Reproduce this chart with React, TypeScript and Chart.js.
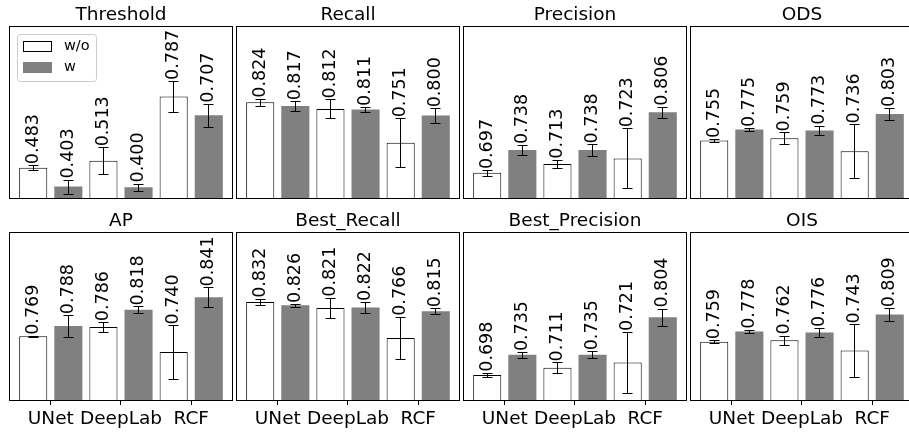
import React, { useEffect, useRef } from 'react';
import { Chart, registerables } from 'chart.js';

Chart.register(...registerables);

// ---------- data ----------
const categories = ['UNet', 'DeepLab', 'RCF'];
const seriesLabels = ['w/o', 'w'];

const thresholdWo = [0.483, 0.513, 0.787];
const thresholdW = [0.403, 0.400, 0.707];
const thresholdWoErr = [0.011, 0.057, 0.066];
const thresholdWErr = [0.030, 0.016, 0.049];

const recallWo = [0.824, 0.812, 0.751];
const recallW = [0.817, 0.811, 0.800];
const recallWoErr = [0.0064, 0.017, 0.044];
const recallWErr = [0.0085, 0.0046, 0.013];

const precisionWo = [0.697, 0.713, 0.723];
const precisionW = [0.738, 0.738, 0.806];
const precisionWoErr = [0.005, 0.0076, 0.054];
const precisionWErr = [0.009, 0.010, 0.010];

const odsWo = [0.755, 0.759, 0.736];
const odsW = [0.775, 0.773, 0.803];
const odsWoErr = [0.003, 0.0106, 0.048];
const odsWErr = [0.0025, 0.0085, 0.0106];

const apWo = [0.769, 0.786, 0.740];
const apW = [0.788, 0.818, 0.841];
const apWoErr = [0.001, 0.009, 0.049];
const apWErr = [0.020, 0.006, 0.018];

const bestRecallWo = [0.832, 0.821, 0.766];
const bestRecallW = [0.826, 0.822, 0.815];
const bestRecallWoErr = [0.006, 0.019, 0.039];
const bestRecallWErr = [0.0025, 0.010, 0.0055];

const bestPrecisionWo = [0.698, 0.711, 0.721];
const bestPrecisionW = [0.735, 0.735, 0.804];
const bestPrecisionWoErr = [0.004, 0.010, 0.056];
const bestPrecisionWErr = [0.005, 0.0065, 0.016];

const oisWo = [0.759, 0.762, 0.743];
const oisW = [0.778, 0.776, 0.809];
const oisWoErr = [0.003, 0.0085, 0.048];
const oisWErr = [0.003, 0.0085, 0.0115];

const thresholdRange = [0.35, 1.087];
const metricRange = [0.65, 0.961];

const panels = [
  { title: 'Threshold', wo: thresholdWo, w: thresholdW, woErr: thresholdWoErr, wErr: thresholdWErr, range: thresholdRange },
  { title: 'Recall', wo: recallWo, w: recallW, woErr: recallWoErr, wErr: recallWErr, range: metricRange },
  { title: 'Precision', wo: precisionWo, w: precisionW, woErr: precisionWoErr, wErr: precisionWErr, range: metricRange },
  { title: 'ODS', wo: odsWo, w: odsW, woErr: odsWoErr, wErr: odsWErr, range: metricRange },
  { title: 'AP', wo: apWo, w: apW, woErr: apWoErr, wErr: apWErr, range: metricRange },
  { title: 'Best_Recall', wo: bestRecallWo, w: bestRecallW, woErr: bestRecallWoErr, wErr: bestRecallWErr, range: metricRange },
  { title: 'Best_Precision', wo: bestPrecisionWo, w: bestPrecisionW, woErr: bestPrecisionWoErr, wErr: bestPrecisionWErr, range: metricRange },
  { title: 'OIS', wo: oisWo, w: oisW, woErr: oisWoErr, wErr: oisWErr, range: metricRange },
];

// ---------- styling / layout ----------
const FONT = "'DejaVu Sans', 'Liberation Sans', sans-serif";
const WO_COLOR = '#ffffff';
const W_COLOR = '#808080';
const COL_PITCH = 227;
const AREA_LEFT0 = 9;
const AREA_W = 224;
const PAD_X = 4;

function makeErrorPlugin(errs: number[][]) {
  return {
    id: 'errorBars',
    afterDatasetsDraw(chart: any) {
      const ctx = chart.ctx;
      const yScale = chart.scales.y;
      ctx.save();
      ctx.strokeStyle = '#000';
      ctx.lineWidth = 1;
      chart.data.datasets.forEach((ds: any, di: number) => {
        const meta = chart.getDatasetMeta(di);
        meta.data.forEach((bar: any, i: number) => {
          const v = ds.data[i].y;
          const e = errs[di][i];
          const x = Math.floor(bar.x) + 0.5;
          const yt = Math.round(yScale.getPixelForValue(v + e)) + 0.5;
          const yb = Math.round(yScale.getPixelForValue(v - e)) + 0.5;
          ctx.beginPath();
          ctx.moveTo(x, yt);
          ctx.lineTo(x, yb);
          ctx.moveTo(x - 5, yt);
          ctx.lineTo(x + 5, yt);
          ctx.moveTo(x - 5, yb);
          ctx.lineTo(x + 5, yb);
          ctx.stroke();
        });
      });
      // value labels
      ctx.fillStyle = '#000';
      ctx.font = `17.5px ${FONT}`;
      ctx.textAlign = 'left';
      ctx.textBaseline = 'middle';
      chart.data.datasets.forEach((ds: any, di: number) => {
        const meta = chart.getDatasetMeta(di);
        meta.data.forEach((bar: any, i: number) => {
          const v = ds.data[i].y;
          const e = errs[di][i];
          const yt = yScale.getPixelForValue(v + e);
          ctx.save();
          ctx.translate(bar.x, yt - 1);
          ctx.rotate(-Math.PI / 2);
          ctx.fillText(v.toFixed(3), 0, 0);
          ctx.restore();
        });
      });
      ctx.restore();
    },
  };
}

const boxPlugin = {
  id: 'axesBox',
  afterDatasetsDraw(chart: any) {
    const { left, top, right, bottom } = chart.chartArea;
    const ctx = chart.ctx;
    ctx.save();
    ctx.strokeStyle = '#000';
    ctx.lineWidth = 1;
    ctx.strokeRect(Math.round(left) + 0.5, Math.round(top) + 0.5, Math.round(right - left) - 1, Math.round(bottom - top) - 1);
    ctx.restore();
  },
};

function makeLegendPlugin() {
  return {
    id: 'insideLegend',
    afterDraw(chart: any) {
      const ctx = chart.ctx;
      const { left, top } = chart.chartArea;
      const bx = left + 8.5, by = top + 8.5, bw = 79, bh = 47;
      ctx.save();
      ctx.beginPath();
      if ((ctx as any).roundRect) (ctx as any).roundRect(bx, by, bw, bh, 3);
      else ctx.rect(bx, by, bw, bh);
      ctx.fillStyle = 'rgba(255,255,255,0.8)';
      ctx.fill();
      ctx.strokeStyle = '#cccccc';
      ctx.lineWidth = 1;
      ctx.stroke();
      ctx.font = `14.5px ${FONT}`;
      ctx.textAlign = 'left';
      ctx.textBaseline = 'middle';
      chart.data.datasets.forEach((ds: any, di: number) => {
        const sy = top + 15 + di * 21;
        ctx.fillStyle = ds.backgroundColor;
        ctx.fillRect(left + 14, sy, 29, 11);
        if (ds.borderWidth) {
          ctx.strokeStyle = '#000';
          ctx.strokeRect(left + 14.5, sy + 0.5, 28, 10);
        }
        ctx.fillStyle = '#000';
        ctx.fillText(ds.label, left + 55, sy + 5.5);
      });
      ctx.restore();
    },
  };
}

export default function App() {
  const refs = useRef<(HTMLCanvasElement | null)[]>([]);

  useEffect(() => {
    Chart.defaults.font.family = FONT;
    Chart.defaults.color = '#000';
    const charts: Chart[] = [];
    panels.forEach((p, idx) => {
      const canvas = refs.current[idx];
      if (!canvas) return;
      const bottomRow = idx >= 4;
      const errs = [p.woErr, p.wErr];
      const plugins: any[] = [makeErrorPlugin(errs), boxPlugin];
      if (idx === 0) plugins.push(makeLegendPlugin());
      const chart = new Chart(canvas, {
        type: 'bar',
        data: {
          datasets: [
            {
              label: seriesLabels[0],
              data: p.wo.map((v, i) => ({ x: i - 0.25, y: v })),
              backgroundColor: WO_COLOR,
              borderColor: '#000',
              borderWidth: 1,
              borderSkipped: false,
              grouped: false,
              categoryPercentage: 1,
              barPercentage: 0.8,
            } as any,
            {
              label: seriesLabels[1],
              data: p.w.map((v, i) => ({ x: i + 0.25, y: v })),
              backgroundColor: W_COLOR,
              borderWidth: 0,
              grouped: false,
              categoryPercentage: 1,
              barPercentage: 0.8,
            } as any,
          ],
        },
        options: {
          animation: false,
          responsive: false,
          maintainAspectRatio: false,
          devicePixelRatio: 1,
          layout: {
            padding: { left: PAD_X, right: PAD_X, top: 0, bottom: bottomRow ? 0 : 4 },
          },
          plugins: {
            legend: { display: false },
            tooltip: { enabled: false },
            title: {
              display: true,
              text: p.title,
              color: '#000',
              font: { family: FONT, size: 18.5, weight: 'normal', lineHeight: '22px' as any },
              padding: { top: bottomRow ? 10 : 4, bottom: 0 },
            },
          },
          scales: {
            x: {
              type: 'linear',
              min: -0.595,
              max: 2.595,
              offset: false,
              display: bottomRow,
              afterBuildTicks: (s: any) => {
                s.ticks = categories.map((_, i) => ({ value: i }));
              },
              ticks: {
                autoSkip: false,
                maxRotation: 0,
                minRotation: 0,
                padding: 3,
                color: '#000',
                font: { family: FONT, size: 18.5, lineHeight: '22px' as any },
                callback: (_v: any, i: number) => categories[i],
              },
              grid: {
                display: true,
                offset: false,
                drawOnChartArea: false,
                drawTicks: true,
                tickLength: 4,
                color: '#000',
                lineWidth: 1,
              },
              border: { display: false },
            },
            y: {
              type: 'linear',
              display: false,
              min: p.range[0],
              max: p.range[1],
            },
          },
        } as any,
        plugins,
      });
      charts.push(chart);
    });
    return () => charts.forEach((c) => c.destroy());
  }, []);

  return (
    <div style={{ position: 'fixed', left: 0, top: 0, width: 909, height: 433, overflow: 'hidden', background: '#fff' }}>
      {panels.map((p, idx) => {
        const col = idx % 4;
        const bottomRow = idx >= 4;
        const left = AREA_LEFT0 + COL_PITCH * col - PAD_X;
        const top = bottomRow ? 200 : 0;
        const width = AREA_W + 2 * PAD_X;
        const height = bottomRow ? 233 : 203;
        return (
          <canvas
            key={p.title}
            ref={(el) => { refs.current[idx] = el; }}
            width={width}
            height={height}
            style={{ position: 'absolute', left, top, width, height }}
          />
        );
      })}
    </div>
  );
}
